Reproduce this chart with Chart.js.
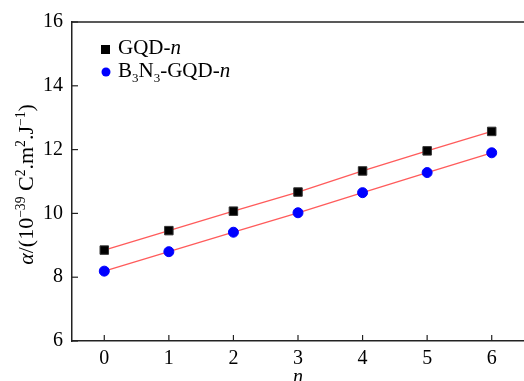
<!DOCTYPE html>
<html>
<head>
<meta charset="utf-8">
<script src="https://cdn.jsdelivr.net/npm/chart.js@4.4.0/dist/chart.umd.min.js"></script>
<style>
  html, body { margin: 0; padding: 0; background: #fff; }
  #wrap { width: 524px; height: 381px; }
</style>
</head>
<body>
<div id="wrap"><canvas id="alphaChart"></canvas></div>
<script>
// values
const nValues = [0, 1, 2, 3, 4, 5, 6];
const gqd = [8.85, 9.46, 10.07, 10.67, 11.33, 11.96, 12.57];
const bnGqd = [8.19, 8.80, 9.41, 10.02, 10.65, 11.28, 11.90];
const xTicks = [0, 1, 2, 3, 4, 5, 6];
const yTicks = [6, 8, 10, 12, 14, 16];

const serif = "'Liberation Serif', 'DejaVu Serif', serif";
const lineRed = 'rgba(255, 50, 50, 0.8)';

// draw a run of text pieces: plain, italic, subscript or superscript
function drawRich(ctx, parts, x, y, size) {
  parts.forEach(p => {
    let fs = size, dy = 0, st = '';
    if (p.s === 'sub') { fs = size * 0.62; dy = size * 0.22; }
    if (p.s === 'sup') { fs = size * 0.62; dy = -size * 0.38; }
    if (p.s === 'it') st = 'italic ';
    ctx.font = st + fs + 'px ' + serif;
    ctx.fillText(p.t, x, y + dy);
    x += ctx.measureText(p.t).width;
  });
  return x;
}

function richWidth(ctx, parts, size) {
  let w = 0;
  parts.forEach(p => {
    const fs = (p.s === 'sub' || p.s === 'sup') ? size * 0.62 : size;
    ctx.font = (p.s === 'it' ? 'italic ' : '') + fs + 'px ' + serif;
    w += ctx.measureText(p.t).width;
  });
  return w;
}

const yTitle = [
  { t: 'α', s: 'it' }, { t: '/(10' }, { t: '−39', s: 'sup' }, { t: ' C' }, { t: '2', s: 'sup' },
  { t: '.m' }, { t: '2', s: 'sup' }, { t: '.J' }, { t: '−1', s: 'sup' }, { t: ')' }
];

const framePlugin = {
  id: 'framePlugin',
  afterDraw(chart) {
    const ctx = chart.ctx;
    const area = chart.chartArea;
    const xs = chart.scales.x, ys = chart.scales.y;
    ctx.save();
    ctx.strokeStyle = '#222';
    ctx.lineWidth = 1.5;
    // top border
    ctx.beginPath();
    ctx.moveTo(area.left, area.top);
    ctx.lineTo(area.right, area.top);
    ctx.stroke();
    // inward ticks
    ctx.lineWidth = 1.2;
    xTicks.forEach(v => {
      const px = xs.getPixelForValue(v);
      ctx.beginPath();
      ctx.moveTo(px, area.bottom);
      ctx.lineTo(px, area.bottom - 6);
      ctx.stroke();
    });
    yTicks.forEach(v => {
      const py = ys.getPixelForValue(v);
      ctx.beginPath();
      ctx.moveTo(area.left, py);
      ctx.lineTo(area.left + 6, py);
      ctx.stroke();
    });

    // legend
    ctx.fillStyle = '#000';
    ctx.textBaseline = 'alphabetic';
    ctx.fillRect(area.left + 29, area.top + 23, 9, 9);
    drawRich(ctx, [{ t: 'GQD-' }, { t: 'n', s: 'it' }], area.left + 46, area.top + 32, 21);

    ctx.fillStyle = '#0000ff';
    ctx.beginPath();
    ctx.arc(area.left + 34, area.top + 50, 4.5, 0, Math.PI * 2);
    ctx.fill();
    ctx.fillStyle = '#000';
    drawRich(ctx, [
      { t: 'B' }, { t: '3', s: 'sub' }, { t: 'N' }, { t: '3', s: 'sub' },
      { t: '-GQD-' }, { t: 'n', s: 'it' }
    ], area.left + 46, area.top + 55, 21);

    // y axis title, rotated
    const w = richWidth(ctx, yTitle, 22);
    ctx.translate(33, (area.top + area.bottom) / 2 + 3);
    ctx.rotate(-Math.PI / 2);
    drawRich(ctx, yTitle, -w / 2, 0, 22);
    ctx.restore();
  }
};

const ctx = document.getElementById('alphaChart').getContext('2d');

new Chart(ctx, {
  type: 'line',
  data: {
    datasets: [{
      label: 'GQD-n',
      data: nValues.map((n, i) => ({ x: n, y: gqd[i] })),
      borderColor: lineRed,
      borderWidth: 1.3,
      pointStyle: 'rect',
      pointRadius: 6,
      pointBackgroundColor: '#000',
      pointBorderColor: '#333',
      pointBorderWidth: 1,
      tension: 0
    }, {
      label: 'B3N3-GQD-n',
      data: nValues.map((n, i) => ({ x: n, y: bnGqd[i] })),
      borderColor: lineRed,
      borderWidth: 1.3,
      pointStyle: 'circle',
      pointRadius: 5,
      pointBackgroundColor: '#0000ff',
      pointBorderColor: '#0000ff',
      pointBorderWidth: 1,
      tension: 0
    }]
  },
  options: {
    responsive: true,
    maintainAspectRatio: false,
    animation: false,
    layout: { autoPadding: false, padding: { top: 22, right: 0, left: 0, bottom: 0 } },
    plugins: {
      legend: { display: false },
      tooltip: { enabled: false }
    },
    scales: {
      x: {
        type: 'linear',
        min: -0.5,
        max: 6.5,
        afterBuildTicks: scale => { scale.ticks = xTicks.map(v => ({ value: v })); },
        afterFit: scale => { scale.height = 40; },
        grid: { display: false, drawTicks: false },
        border: { display: true, color: '#222', width: 1.5 },
        ticks: { color: '#000', padding: 6, font: { family: serif, size: 20 } },
        title: {
          display: true,
          text: 'n',
          color: '#000',
          padding: { top: 0, bottom: -9 },
          font: { family: serif, size: 20, style: 'italic' }
        }
      },
      y: {
        min: 6,
        max: 16,
        afterBuildTicks: scale => { scale.ticks = yTicks.map(v => ({ value: v })); },
        afterFit: scale => { scale.width = 72; },
        grid: { display: false, drawTicks: false },
        border: { display: true, color: '#222', width: 1.5 },
        ticks: { color: '#000', padding: 9, font: { family: serif, size: 20 } }
      }
    }
  },
  plugins: [framePlugin]
});
</script>
</body>
</html>
